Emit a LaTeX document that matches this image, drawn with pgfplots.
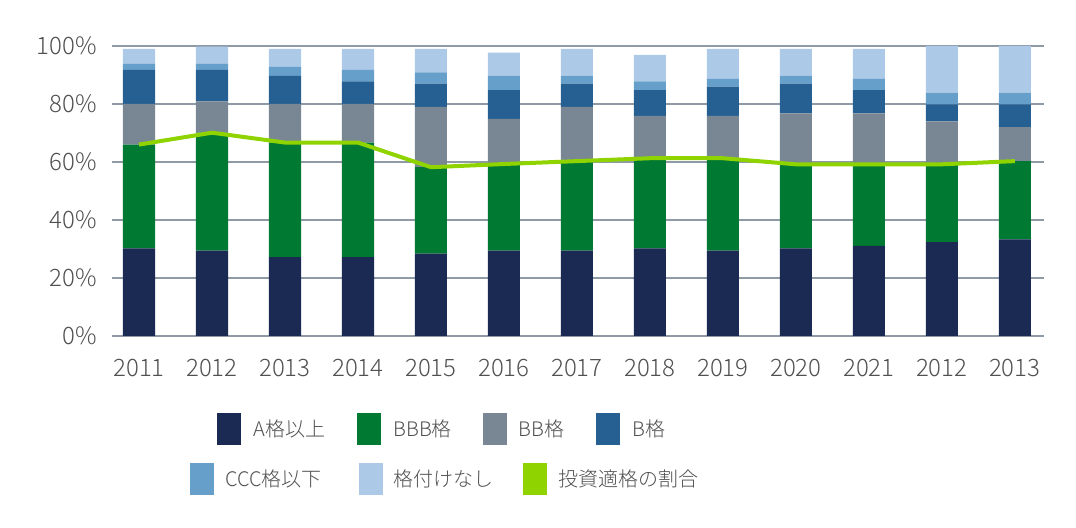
\documentclass[border=0pt]{standalone}
\usepackage{fontspec}
\setmainfont{Noto Sans CJK JP}[UprightFont={* Light}]
\usepackage{pgfplots}
\pgfplotsset{compat=1.18}
\usetikzlibrary{calc}
\definecolor{cA}{HTML}{1B2A52}
\definecolor{cBBB}{HTML}{007A33}
\definecolor{cBB}{HTML}{788793}
\definecolor{cB}{HTML}{266092}
\definecolor{cCCC}{HTML}{659FCA}
\definecolor{cNR}{HTML}{ADC9E8}
\definecolor{cL}{HTML}{8FD400}
\definecolor{cGrid}{HTML}{8E9AA6}
\definecolor{cTxt}{HTML}{505050}
\begin{document}
\begin{tikzpicture}
\pgfplotsset{base/.style={
  scale only axis, width=466pt, height=145pt,
  xmin=-0.37, xmax=12.4, ymin=0, ymax=100,
  axis line style={draw=none},
  major tick length=0pt,
  /pgf/number format/assume math mode=true,
}}
\begin{axis}[base,
  ybar stacked, bar width=0.44,
  ymajorgrids, grid style={color=cGrid, line width=0.8pt},
  ytick={0,20,40,60,80,100},
  yticklabel={\pgfmathprintnumber{\tick}\%},
  xtick={0,1,2,3,4,5,6,7,8,9,10,11,12},
  xticklabels={2011,2012,2013,2014,2015,2016,2017,2018,2019,2020,2021,2012,2013},
  ticklabel style={font=\fontsize{12}{14}\selectfont, text=cTxt},
  xticklabel style={yshift=-8pt},
  yticklabel style={xshift=-4pt},
]
\addplot[fill=cA, draw=none] coordinates {(0,30.2) (1,29.4) (2,27.2) (3,27.2) (4,28.4) (5,29.4) (6,29.4) (7,30.2) (8,29.4) (9,30.2) (10,31.1) (11,32.4) (12,33.3)};
\addplot[fill=cBBB, draw=none] coordinates {(0,35.8) (1,40.7) (2,39.5) (3,39.5) (4,29.8) (5,29.9) (6,30.9) (7,31.1) (8,31.9) (9,29.0) (10,28.1) (11,26.8) (12,27.0)};
\addplot[fill=cBB, draw=none] coordinates {(0,14.0) (1,10.8) (2,13.3) (3,13.3) (4,20.8) (5,15.6) (6,18.7) (7,14.6) (8,14.6) (9,17.6) (10,17.6) (11,14.8) (12,11.7)};
\addplot[fill=cB, draw=none] coordinates {(0,11.8) (1,10.9) (2,9.7) (3,7.8) (4,8.0) (5,9.9) (6,8.0) (7,8.9) (8,10.1) (9,10.2) (10,8.0) (11,5.9) (12,7.9)};
\addplot[fill=cCCC, draw=none] coordinates {(0,2.0) (1,2.0) (2,3.1) (3,4.0) (4,3.9) (5,5.0) (6,2.8) (7,3.0) (8,2.7) (9,2.8) (10,3.9) (11,4.0) (12,4.0)};
\addplot[fill=cNR, draw=none] coordinates {(0,5.2) (1,6.0) (2,6.2) (3,7.2) (4,8.1) (5,7.9) (6,9.2) (7,9.1) (8,10.3) (9,9.2) (10,10.3) (11,16.1) (12,16.1)};
\end{axis}
\begin{axis}[base, hide axis]
\addplot[color=cL, line width=2pt, line join=round, mark=none] coordinates {(0,66.0) (1,70.1) (2,66.7) (3,66.7) (4,58.2) (5,59.3) (6,60.3) (7,61.3) (8,61.3) (9,59.2) (10,59.2) (11,59.2) (12,60.3)};
\end{axis}
% legend
\tikzset{lt/.style={anchor=west, inner sep=0pt, font=\fontsize{10}{12}\selectfont, text=cTxt}}
\fill[cA]   (52.5pt,-54.5pt) rectangle ++(12pt,16pt);
\node[lt] at (70.5pt,-46.5pt) {A格以上};
\fill[cBBB] (122.5pt,-54.5pt) rectangle ++(12pt,16pt);
\node[lt] at (140.5pt,-46.5pt) {BBB格};
\fill[cBB]  (185.5pt,-54.5pt) rectangle ++(12pt,16pt);
\node[lt] at (203pt,-46.5pt) {BB格};
\fill[cB]   (242pt,-54.5pt) rectangle ++(12pt,16pt);
\node[lt] at (260pt,-46.5pt) {B格};
\fill[cCCC] (39pt,-79.5pt) rectangle ++(12pt,16pt);
\node[lt] at (56.5pt,-71.5pt) {CCC格以下};
\fill[cNR]  (123.5pt,-79.5pt) rectangle ++(12pt,16pt);
\node[lt] at (140.5pt,-71.5pt) {格付けなし};
\fill[cL]   (205.5pt,-79.5pt) rectangle ++(12pt,16pt);
\node[lt] at (223pt,-71.5pt) {投資適格の割合};
\pgfresetboundingbox
\path[use as bounding box] (-56pt,-96pt) rectangle (482pt,168pt);
\end{tikzpicture}
\end{document}
